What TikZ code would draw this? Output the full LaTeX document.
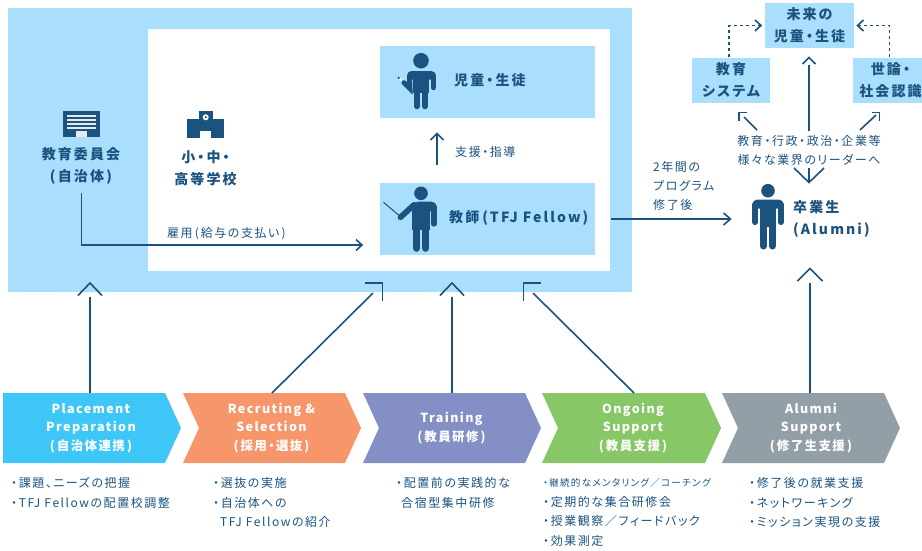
\documentclass[tikz,border=0pt]{standalone}
\usepackage{fontspec}
\newfontfamily\jp[RawFeature={+palt},LetterSpace=13]{Noto Sans CJK JP}
\newfontfamily\jpb[RawFeature={+palt},LetterSpace=15]{Noto Sans CJK JP}
\newfontfamily\jpw[RawFeature={+palt},LetterSpace=11]{Noto Sans CJK JP}
\definecolor{navy}{HTML}{1A5280}
\definecolor{sky}{HTML}{A9DFFC}
\definecolor{chA}{HTML}{3EC6F6}
\definecolor{chB}{HTML}{F7966B}
\definecolor{chC}{HTML}{838FC5}
\definecolor{chD}{HTML}{87C765}
\definecolor{chE}{HTML}{939FA6}
\tikzset{
  panel/.style={fill=sky,inner sep=0pt,outer sep=0pt,minimum width=#1},
  conn/.style={draw=navy,line width=1.6pt},
  dashconn/.style={draw=navy,line width=1.8pt,dash pattern=on 3pt off 3pt},
  tip/.style={draw=navy,line width=1.6pt,fill=none},
  title/.style={text=navy,font=\jpb\bfseries\fontsize{14}{22}\selectfont,align=center,inner sep=0pt},
  small/.style={text=navy,font=\jp\fontsize{12}{19}\selectfont,align=center,inner sep=0pt},
  listing/.style={text=navy,font=\jp\fontsize{12}{19.7}\selectfont,align=left,inner sep=0pt,anchor=north west},
  chtext/.style={text=white,font=\jpw\bfseries\fontsize{12.5}{18.6}\selectfont,align=center,inner sep=0pt},
  ink/.style={fill=navy,draw=none},
  limb/.style={draw=navy,line cap=round},
}
\begin{document}
\begin{tikzpicture}[x=1pt,y=-1pt]
\useasboundingbox (0,0) rectangle (922,550);
% panels
\fill[sky] (8,8) rectangle (632,292);
\fill[white] (148,29) rectangle (610,271);
\node[panel=215pt,minimum height=72pt] (pupil) at (487.5,82) {};
\node[panel=215pt,minimum height=72pt] (teacher) at (487.5,219) {};
\node[panel=89pt,minimum height=45pt,title] (future) at (809.5,25.5) {未来の\\児童・生徒};
\node[panel=78pt,minimum height=45pt,title] (system) at (731,80.5) {教育\\システム};
\node[panel=69pt,minimum height=45pt,title] (opinion) at (887.5,80.5) {};
\node[title] (opiniontext) at (890.5,80.5) {世論・\\社会認識};
% chevrons
\fill[chA] (3,393) -- (165,393) -- (181,428) -- (165,463) -- (3,463) -- cycle;
\fill[chB] (183,393) -- (345,393) -- (361,428) -- (345,463) -- (183,463) -- (199,428) -- cycle;
\fill[chC] (363,393) -- (525,393) -- (541,428) -- (525,463) -- (363,463) -- (379,428) -- cycle;
\fill[chD] (542,393) -- (705,393) -- (721,428) -- (705,463) -- (542,463) -- (558,428) -- cycle;
\fill[chE] (722,393) -- (884,393) -- (900,428) -- (884,463) -- (722,463) -- (738,428) -- cycle;
\node[chtext] (cA) at (91,428) {Placement\\Preparation\\(\,自治体連携\,)};
\node[chtext] (cB) at (271.5,428) {Recruting \&\\Selection\\(\,採用・選抜\,)};
\node[chtext] (cC) at (451.5,428) {Training\\(\,教員研修\,)};
\node[chtext] (cD) at (633,428) {Ongoing\\Support\\(\,教員支援\,)};
\node[chtext] (cE) at (811,428) {Alumni\\Support\\(\,修了生支援\,)};
% titles
\node[title] (board) at (81,166) {教育委員会\\(\,自治体\,)};
\node[title] (school) at (205.5,168) {小・中・\\高等学校};
\node[title,anchor=west] (pupiltext) at (454,80) {児童・生徒};
\node[title,anchor=west] (teachertext) at (449,218) {教師\hspace{3pt}(TFJ Fellow)};
\node[title,align=left,anchor=west] (alumni) at (793,218.5) {卒業生\\(Alumni)};
% small labels
\node[small,anchor=west] (support) at (455,152) {支援・指導};
\node[small,anchor=west] (hire) at (167,234) {雇用\,(\,給与の支払い\,)};
\node[small] (leaders) at (809,150) {教育・行政・政治・企業等\\様々な業界のリーダーへ};
\node[small,align=left,anchor=west] (after) at (653,185.5) {2年間の\\プログラム\\修了後};
% lists
\node[listing] (lA) at (11,477) {・課題、ニーズの把握\\・TFJ Fellowの配置校調整};
\node[listing] (lB) at (213,477) {・選抜の実施\\・自治体への\\\hspace*{7pt}TFJ Fellowの紹介};
\node[listing] (lC) at (396,477) {・配置前の実践的な\\\hspace*{5pt}合宿型集中研修};
\node[listing] (lD) at (543,478) {{\fontsize{9.6}{19.7}\selectfont ・継続的なメンタリング／コーチング}\\・定期的な集合研修会\\・授業観察／フィードバック\\・効果測定};
\node[listing] (lE) at (749,477) {・修了後の就業支援\\・ネットワーキング\\・ミッション実現の支援};
% connector end points
\coordinate (a1) at (90,393); \coordinate (a2) at (90,296.5);
\coordinate (b1) at (272,393); \coordinate (b2) at (373,293);
\coordinate (c1) at (452,393); \coordinate (c2) at (452,296.5);
\coordinate (d1) at (634,393); \coordinate (d2) at (533,293);
\coordinate (e1) at (810,393); \coordinate (e2) at (810,283);
\coordinate (f1) at (81.5,193); \coordinate (f2) at (81.5,245); \coordinate (f3) at (362,245);
\coordinate (g1) at (437,165); \coordinate (g2) at (437,134);
\coordinate (h1) at (611,219); \coordinate (h2) at (730.5,219);
\coordinate (i1) at (809,131); \coordinate (i2) at (809,65);
\coordinate (j1) at (757,130); \coordinate (j2) at (744,117);
\coordinate (k1) at (860,130); \coordinate (k2) at (876,115);
\coordinate (l1) at (809,168); \coordinate (l2) at (809,182);
\coordinate (m1) at (729,57); \coordinate (m2) at (729,25.5); \coordinate (m3) at (760,25.5);
\coordinate (n1) at (889.5,57); \coordinate (n2) at (889.5,25.5); \coordinate (n3) at (858,25.5);
% connectors
\draw[conn] (a1) -- (a2);
\draw[conn] (b1) -- (b2);
\draw[conn] (c1) -- (c2);
\draw[conn] (d1) -- (d2);
\draw[conn] (e1) -- (e2);
\draw[conn] (f1) -- (f2) -- (f3);
\draw[conn] (g1) -- (g2);
\draw[conn] (h1) -- (h2);
\draw[conn] (i1) -- (i2);
\draw[conn] (j1) -- (j2);
\draw[conn] (k1) -- (k2);
\draw[conn] (l1) -- (l2);
\draw[dashconn] (m1) -- (m2) -- (m3);
\draw[dashconn] (n1) -- (n2) -- (n3);
% arrow heads
\draw[tip] (78,295.5) -- (90,283) -- (102,295.5);
\draw[tip] (365,283) -- (382.5,283) -- (382.5,300.5);
\draw[tip] (440,295.5) -- (452,283) -- (464,295.5);
\draw[tip] (541,283) -- (523.5,283) -- (523.5,300.5);
\draw[tip] (797.5,281) -- (810,268.5) -- (822.5,281);
\draw[tip] (356,239.5) -- (362,245) -- (356,250.5);
\draw[tip] (430.5,140) -- (437,133.5) -- (443.5,140);
\draw[tip] (723.5,213) -- (730.5,219) -- (723.5,225);
\draw[tip] (802.5,64) -- (809,57.5) -- (815.5,64);
\draw[tip] (739,121) -- (739,112.5) -- (747,112.5);
\draw[tip] (872,112.5) -- (879.5,112.5) -- (879.5,121);
\draw[tip] (794,168) -- (809,182.5) -- (824,168);
\draw[tip] (755,20) -- (761,25.5) -- (755,31);
\draw[tip] (863.5,20) -- (857.5,25.5) -- (863.5,31);
% building icon
\fill[navy] (63,111) rectangle (100,137);
\foreach \yy in {115,119,123,127} \fill[white!88!navy] (67,\yy) rectangle (96,\yy+2);
\fill[white!88!navy] (76,131) rectangle (87,137);
% school icon
\fill[navy] (199,111) rectangle (213,119);
\fill[navy] (187,119) rectangle (224,138);
\fill[white] (200,131) rectangle (211,138);
\fill[white] (205.7,117.3) circle (3);
\draw[navy,line width=0.7pt] (205.7,115.5) -- (205.7,117.5) -- (207.3,117.5);
% alumni figure
\begin{scope}[shift={(768,190.7)}]
\fill[ink] (0,0) circle (6.8);
\fill[ink,rounded corners=5pt] (-15.7,18) -- (-15.7,8.8) -- (15.7,8.8) -- (15.7,18) -- cycle;
\draw[limb,line width=5.7pt] (-12.85,14) -- (-12.85,31.5);
\draw[limb,line width=5.7pt] (12.85,14) -- (12.85,31.5);
\fill[ink] (-7.9,10) rectangle (7.9,36);
\draw[limb,line width=7pt] (-4.4,34) -- (-4.4,55.3);
\draw[limb,line width=7pt] (4.4,34) -- (4.4,55.3);
\end{scope}
% pupil figure
\begin{scope}[shift={(421,60.7)}]
\fill[ink] (0,0) circle (7.8);
\fill[ink,rounded corners=4pt] (-13,19) -- (-14,10.5) -- (14.7,10.5) -- (14.7,19) -- cycle;
\draw[limb,line width=5pt] (12.2,15) -- (12.2,27);
\draw[limb,line width=5pt] (-11.5,15) -- (-11,28) -- (-17,22);
\fill[ink] (-7.7,12) rectangle (7.7,32);
\draw[limb,line width=6.2pt] (-3.9,30) -- (-3.9,45.5);
\draw[limb,line width=6.2pt] (3.9,30) -- (3.9,45.5);
\draw[white,line width=1.8pt] (-19.5,19.5) -- (-21.5,17.8);
\draw[navy,line width=1.4pt] (-21.5,17.8) -- (-23,16.5);
\end{scope}
% teacher figure
\begin{scope}[shift={(421,193.3)}]
\fill[ink] (0,0) circle (6.8);
\fill[ink,rounded corners=5pt] (-10,18) -- (-8,8.4) -- (15.7,8.4) -- (15.7,18) -- cycle;
\draw[limb,line width=5.7pt] (12.9,14) -- (12.9,30.5);
\draw[limb,line width=5.7pt] (-7,11.5) -- (-20.5,24);
\fill[ink] (-8.7,10) rectangle (8.7,37);
\draw[limb,line width=7pt] (-4.6,34) -- (-4.6,55);
\draw[limb,line width=7pt] (4.6,34) -- (4.6,55);
\draw[navy,line width=1pt] (-21.5,22.5) -- (-37.5,9);
\end{scope}
\end{tikzpicture}
\end{document}
